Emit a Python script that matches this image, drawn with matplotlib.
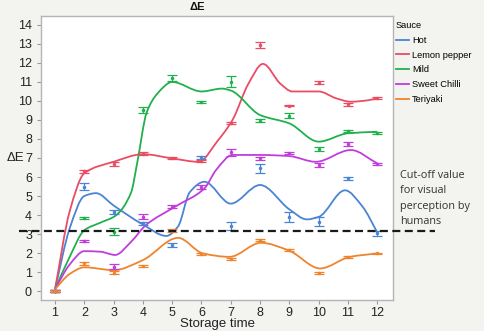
import numpy as np
import matplotlib
matplotlib.use("Agg")
from matplotlib import pyplot as plt
from matplotlib.path import Path
from matplotlib.patches import PathPatch

plt.rcParams['font.family'] = ['Liberation Sans', 'DejaVu Sans']

time = [1, 2, 3, 4, 5, 6, 7, 8, 9, 10, 11, 12]
sauces = ["Hot", "Lemon pepper", "Mild", "Sweet Chilli", "Teriyaki"]
colors = ["#4a84d4", "#ea4c63", "#20b04c", "#c03ddc", "#ef842e"]

# means and error half-widths
hot = [0, 5.49, 4.17, 3.56, 2.42, 7.05, 3.42, 6.46, 3.88, 3.65, 5.93, 3.04]
lemon = [0, 6.30, 6.67, 7.22, 7.02, 6.85, 8.82, 12.95, 9.75, 10.96, 9.82, 10.14]
mild = [0, 3.83, 3.12, 9.53, 11.19, 9.96, 11.02, 8.97, 9.23, 7.46, 8.42, 8.33]
sweet = [0, 2.63, 1.28, 3.91, 4.44, 5.49, 7.30, 6.98, 7.25, 6.63, 7.74, 6.67]
teri = [0, 1.46, 0.96, 1.32, 3.17, 1.93, 1.68, 2.68, 2.16, 0.93, 1.80, 1.98]

hot_err = [0.05, 0.19, 0.1, 0.09, 0.1, 0.08, 0.22, 0.25, 0.26, 0.25, 0.09, 0.14]
lemon_err = [0.05, 0.07, 0.1, 0.07, 0.05, 0.07, 0.05, 0.15, 0.03, 0.07, 0.08, 0.05]
mild_err = [0.05, 0.06, 0.18, 0.16, 0.15, 0.06, 0.3, 0.08, 0.15, 0.1, 0.03, 0.05]
sweet_err = [0.05, 0.07, 0.14, 0.13, 0.07, 0.1, 0.18, 0.07, 0.05, 0.12, 0.1, 0.05]
teri_err = [0.05, 0.08, 0.08, 0.04, 0.07, 0.05, 0.05, 0.05, 0.05, 0.05, 0.06, 0.04]

# fitted smooth curves (knots)
hot_fx = [1, 1.5, 2, 2.4, 3, 4, 4.8, 5.2, 5.6, 6.1, 7, 8, 9, 9.6, 10, 10.9, 11.5, 12]
hot_fy = [0.1, 3.3, 5.0, 5.15, 4.5, 3.5, 2.9, 3.4, 5.2, 5.75, 4.6, 5.58, 4.3, 3.77, 3.9, 5.3, 4.44, 3.1]
lemon_fx = [1, 1.5, 2, 3, 4, 5, 5.9, 6.55, 7.06, 7.6, 8.1, 8.7, 9.1, 10, 10.6, 11.1, 11.7, 12]
lemon_fy = [0.1, 4.2, 6.2, 6.8, 7.2, 6.98, 6.8, 7.9, 9.0, 10.9, 11.95, 10.9, 10.5, 10.5, 10.14, 9.96, 10.04, 10.14]
mild_fx = [1, 1.5, 2, 2.55, 3.05, 3.6, 3.8, 4.13, 4.5, 5.0, 6.0, 6.7, 7.0, 8, 9, 10, 11, 12]
mild_fy = [0.1, 1.8, 3.2, 3.6, 3.95, 5.2, 6.7, 9.4, 10.4, 11.0, 10.5, 10.65, 10.55, 9.26, 8.82, 7.86, 8.3, 8.38]
sweet_fx = [1, 1.5, 2, 2.55, 3.05, 3.6, 4.1, 5.1, 6.1, 6.5, 7.06, 8, 9, 9.9, 11.1, 12]
sweet_fy = [0.1, 1.4, 2.1, 2.07, 1.9, 2.6, 3.47, 4.44, 5.4, 6.37, 7.16, 7.16, 7.1, 6.8, 7.42, 6.72]
teri_fx = [1, 1.5, 2, 3, 4, 5.2, 6.05, 6.96, 8.03, 9.0, 10.05, 11.07, 12]
teri_fy = [0.1, 0.9, 1.25, 1.1, 1.63, 2.8, 1.98, 1.8, 2.54, 2.12, 1.19, 1.8, 1.98]

means = [hot, lemon, mild, sweet, teri]
errs = [hot_err, lemon_err, mild_err, sweet_err, teri_err]
fits = [(hot_fx, hot_fy), (lemon_fx, lemon_fy), (mild_fx, mild_fy),
        (sweet_fx, sweet_fy), (teri_fx, teri_fy)]


def smooth_path(xs, ys):
    # cubic bezier through the knots, monotone-style tangents
    xs = np.asarray(xs, float)
    ys = np.asarray(ys, float)
    h = np.diff(xs)
    d = np.diff(ys) / h
    m = np.zeros(len(xs))
    m[0], m[-1] = d[0], d[-1]
    for i in range(1, len(xs) - 1):
        if d[i - 1] * d[i] > 0:
            w1 = 2 * h[i] + h[i - 1]
            w2 = h[i] + 2 * h[i - 1]
            m[i] = (w1 + w2) / (w1 / d[i - 1] + w2 / d[i])
    verts = [(xs[0], ys[0])]
    codes = [Path.MOVETO]
    for i in range(len(xs) - 1):
        verts += [(xs[i] + h[i] / 3, ys[i] + m[i] * h[i] / 3),
                  (xs[i + 1] - h[i] / 3, ys[i + 1] - m[i + 1] * h[i] / 3),
                  (xs[i + 1], ys[i + 1])]
        codes += [Path.CURVE4] * 3
    return Path(verts, codes)


bg = "#f3f3ef"
fig = plt.figure(figsize=(4.84, 3.31), dpi=100, facecolor=bg)
ax = fig.add_axes([41 / 484, 1 - 300 / 331, 352 / 484, 284 / 331])
ax.set_facecolor("white")

for name, c, y, e, (fx, fy) in zip(sauces, colors, means, errs, fits):
    ax.add_patch(PathPatch(smooth_path(fx, fy), fill=False, edgecolor=c, lw=1.3))
    ax.errorbar(time, y, yerr=e, fmt='.', color=c, ms=3, elinewidth=0.9,
                capsize=3.5, capthick=0.9)
    ax.plot([], [], color=c, lw=1.3, label=name)

# cut-off line, runs past the axes
ax.plot([-0.0625, 1.12], [3.15, 3.15], transform=ax.get_yaxis_transform(),
        color="#1a1a1a", lw=1.6, dashes=(3.6, 2.0), clip_on=False, zorder=5)
fig.text(400 / 484, 1 - 170 / 331, "Cut-off value\nfor visual\nperception by\nhumans",
         family=['Open Sans', 'DejaVu Sans'], fontsize=7.8, color="#333333",
         va="top", ha="left", linespacing=1.55)

ax.set_xlim(0.52, 12.54)
ax.set_ylim(-0.47, 14.47)
ax.set_xticks(time)
ax.set_yticks(range(0, 15))
ax.tick_params(colors="#999999", labelcolor="#222222", labelsize=9, length=3, width=0.8)
ax.tick_params(axis="x", pad=2)
for s in ax.spines.values():
    s.set_color("#b5b5b5")
    s.set_linewidth(1.0)

ax.set_xlabel("Storage time", fontsize=9.5, color="#222222", labelpad=-1)
fig.text(15 / 484, 1 - 158 / 331, "ΔE", fontsize=9.5, color="#222222", ha="center", va="center")
fig.text(197 / 484, 1 - 7 / 331, "ΔE", fontsize=8, fontweight="bold", color="#111111",
         ha="center", va="center")

leg = fig.legend(loc="upper left", bbox_to_anchor=(396 / 484, 1 - 21 / 331),
                 frameon=False, fontsize=6.7, title="Sauce", title_fontsize=6.7,
                 alignment="left", handlelength=1.4, handletextpad=0.35,
                 labelspacing=0.62, borderpad=0, borderaxespad=0)

fig.savefig("out.png", dpi=100, facecolor=bg)
